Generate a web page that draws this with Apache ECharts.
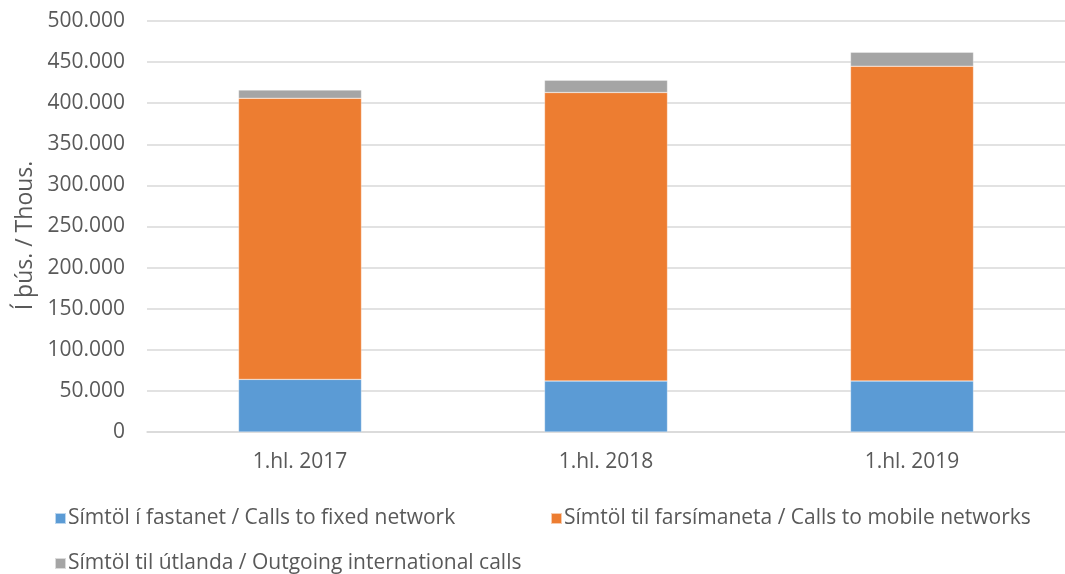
<!DOCTYPE html>
<html>
<head>
<meta charset="utf-8">
<script src="https://cdn.jsdelivr.net/npm/echarts@6/dist/echarts.min.js"></script>
<style>
    html, body {margin: 0; padding: 0; background: #fff;}
    #chart {width: 1065px; height: 574px;}
</style>
</head>
<body>
<div id="chart"></div>
<script>
    var categories = ['1.hl. 2017', '1.hl. 2018', '1.hl. 2019'];
    var fixedCalls = [64000, 62000, 62000];
    var mobileCalls = [342000, 351000, 383000];
    var intlCalls = [10000, 15000, 17000];
    var seriesNames = [
        'Símtöl í fastanet / Calls to fixed network',
        'Símtöl til farsímaneta / Calls to mobile networks',
        'Símtöl til útlanda / Outgoing international calls'
    ];
    var colors = ['#5b9bd5', '#ed7d31', '#a5a5a5'];
    var font = '"Open Sans", Lato, sans-serif';
    var textColor = '#595959';

    var fmt = function (v) {
        return String(v).replace(/\B(?=(\d{3})+(?!\d))/g, '.');
    };
    var legendItem = function (name, left, top) {
        return {
            data: [name],
            left: left,
            top: top,
            icon: 'rect',
            itemWidth: 11,
            itemHeight: 11,
            itemGap: 0,
            textStyle: {fontFamily: font, fontSize: 21, color: textColor, padding: [0, 0, 0, -3]}
        };
    };
    var barSeries = function (idx, data) {
        return {
            name: seriesNames[idx],
            type: 'bar',
            stack: 'calls',
            barWidth: 123,
            itemStyle: {color: colors[idx], borderColor: 'rgba(255,255,255,0.6)', borderWidth: 0.5},
            data: data
        };
    };

    var chart = echarts.init(document.getElementById('chart'));
    chart.setOption({
        animation: false,
        color: colors,
        legend: [
            legendItem(seriesNames[0], 49, 503),
            legendItem(seriesNames[1], 545, 503),
            legendItem(seriesNames[2], 49, 548)
        ],
        grid: {left: 147, right: -6, top: 21, bottom: 142},
        xAxis: {
            type: 'category',
            data: categories,
            axisTick: {show: false},
            axisLine: {lineStyle: {color: '#d9d9d9', width: 1.5}},
            axisLabel: {fontFamily: font, fontSize: 21, color: textColor, margin: 20}
        },
        yAxis: {
            type: 'value',
            min: 0,
            max: 500000,
            interval: 50000,
            name: 'Í þús. / Thous.',
            nameLocation: 'middle',
            nameGap: 104,
            nameTextStyle: {fontFamily: font, fontSize: 23, color: textColor, padding: [0, 18, 0, 0]},
            axisLine: {show: false},
            axisTick: {show: false},
            splitLine: {lineStyle: {color: '#d9d9d9', width: 1.5}},
            axisLabel: {fontFamily: font, fontSize: 21, color: textColor, margin: 22, formatter: fmt}
        },
        series: [
            barSeries(0, fixedCalls),
            barSeries(1, mobileCalls),
            barSeries(2, intlCalls)
        ]
    });
</script>
</body>
</html>
